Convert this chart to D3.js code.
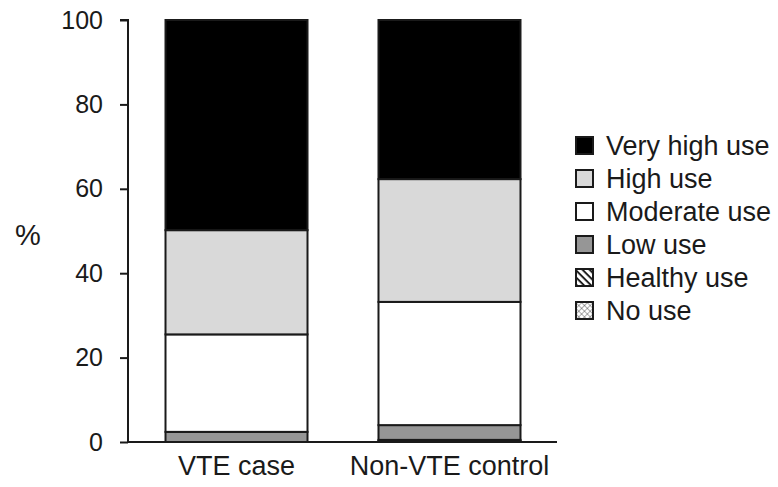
<!DOCTYPE html>
<html>
<head>
<meta charset="utf-8">
<script src="https://cdn.jsdelivr.net/npm/d3@7"></script>
<style>
  html, body { margin: 0; padding: 0; background: #fff; }
  svg { display: block; font-family: "Liberation Sans", Arial, sans-serif; }
</style>
</head>
<body>
<svg id="chart" width="778" height="487"></svg>
<script>
// ---- data ----
const categories = ["VTE case", "Non-VTE control"];
const seriesNames = ["No use", "Healthy use", "Low use", "Moderate use", "High use", "Very high use"];
const noUse      = [0.0, 0.2];
const healthyUse = [0.0, 0.3];
const lowUse     = [2.4, 3.5];
const moderateUse= [23.1, 29.2];
const highUse    = [24.7, 29.1];
const veryHighUse= [49.8, 37.7];
const yTicks = [0, 20, 40, 60, 80, 100];
const legendOrder = ["Very high use", "High use", "Moderate use", "Low use", "Healthy use", "No use"];

const seriesValues = [noUse, healthyUse, lowUse, moderateUse, highUse, veryHighUse];
const rows = categories.map((c, i) => {
  const r = { category: c };
  seriesNames.forEach((s, k) => r[s] = seriesValues[k][i]);
  return r;
});

const fills = {
  "Very high use": "#000000",
  "High use": "#d9d9d9",
  "Moderate use": "#ffffff",
  "Low use": "#969696",
  "Healthy use": "url(#hatch)",
  "No use": "url(#cross)"
};

const svg = d3.select("#chart");
const defs = svg.append("defs");
const hatch = defs.append("pattern").attr("id", "hatch").attr("patternUnits", "userSpaceOnUse")
  .attr("width", 5).attr("height", 5).attr("patternTransform", "rotate(45)");
hatch.append("rect").attr("width", 5).attr("height", 5).attr("fill", "#fff");
hatch.append("line").attr("x1", 0).attr("y1", 0).attr("x2", 5).attr("y2", 0)
  .attr("stroke", "#000").attr("stroke-width", 3.4);
const cross = defs.append("pattern").attr("id", "cross").attr("patternUnits", "userSpaceOnUse")
  .attr("width", 4).attr("height", 4).attr("patternTransform", "rotate(45)");
cross.append("rect").attr("width", 4).attr("height", 4).attr("fill", "#fff");
cross.append("line").attr("x1", 0).attr("y1", 0).attr("x2", 4).attr("y2", 0).attr("stroke", "#333").attr("stroke-width", 0.8);
cross.append("line").attr("x1", 0).attr("y1", 0).attr("x2", 0).attr("y2", 4).attr("stroke", "#333").attr("stroke-width", 0.8);

const x = d3.scaleBand().domain(categories).range([130, 556]).paddingInner(0.3333).paddingOuter(0.1667);
const y = d3.scaleLinear().domain([0, 100]).range([442, 20]);

const stack = d3.stack().keys(seriesNames)(rows);

svg.append("g").selectAll("g").data(stack).join("g")
  .attr("fill", d => fills[d.key])
  .selectAll("rect").data(d => d).join("rect")
  .attr("x", d => x(d.data.category))
  .attr("width", x.bandwidth())
  .attr("y", d => y(d[1]))
  .attr("height", d => Math.max(0, y(d[0]) - y(d[1])))
  .attr("stroke", "#1a1a1a")
  .attr("stroke-width", d => (d[1] - d[0]) > 0 ? 2 : 0);

// y axis
const yAxis = svg.append("g").attr("transform", "translate(128,0)")
  .call(d3.axisLeft(y).tickValues(yTicks).tickSize(8).tickPadding(17));
yAxis.select(".domain").attr("stroke", "#1a1a1a").attr("stroke-width", 2).attr("d", `M-8,${y(100)}H0V${y(0)}`);
yAxis.selectAll(".tick line").attr("stroke", "#1a1a1a").attr("stroke-width", 2);
yAxis.selectAll(".tick text").attr("font-size", 25).attr("fill", "#1a1a1a")
  .attr("font-family", "Liberation Sans, Arial, sans-serif");

// x axis line
svg.append("line").attr("x1", 127).attr("x2", 557).attr("y1", y(0)).attr("y2", y(0))
  .attr("stroke", "#1a1a1a").attr("stroke-width", 2);

// category labels
svg.append("g").selectAll("text").data(categories).join("text")
  .attr("x", d => x(d) + x.bandwidth() / 2)
  .attr("y", 475)
  .attr("text-anchor", "middle")
  .attr("font-size", 27).attr("fill", "#1a1a1a")
  .text(d => d);

// y label
svg.append("text").attr("x", 28).attr("y", 245).attr("text-anchor", "middle")
  .attr("font-size", 29).attr("fill", "#1a1a1a").text("%");

// legend
const leg = svg.append("g").selectAll("g").data(legendOrder).join("g")
  .attr("transform", (d, i) => `translate(576,${137 + i * 33})`);
leg.append("rect").attr("width", 17).attr("height", 17)
  .attr("fill", d => fills[d]).attr("stroke", "#1a1a1a").attr("stroke-width", 2);
leg.append("text").attr("x", 30).attr("y", 18).attr("font-size", 27).attr("fill", "#1a1a1a").text(d => d);
</script>
</body>
</html>
